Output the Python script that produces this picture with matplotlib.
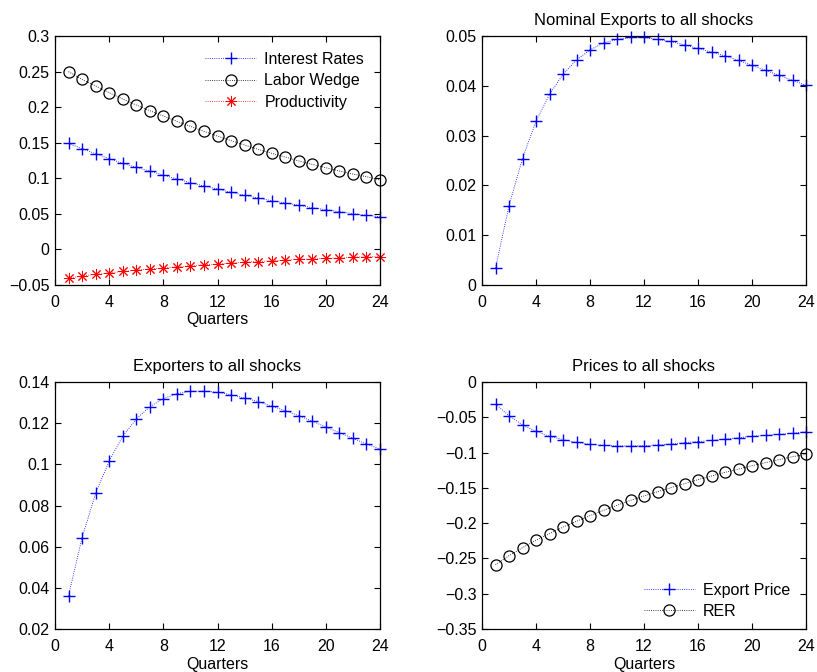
import numpy as np
import matplotlib
matplotlib.use("Agg")
import matplotlib.pyplot as plt
from matplotlib.ticker import FuncFormatter

plt.rcParams['font.family'] = ['Liberation Sans', 'DejaVu Sans']
plt.rcParams['font.size'] = 11.5

quarters = np.arange(1, 25)

# Responses to all shocks (panel 1)
interest_rates = [0.149, 0.1416, 0.1346, 0.1276, 0.121, 0.1154, 0.110, 0.1046,
                  0.099, 0.0938, 0.0892, 0.085, 0.0803, 0.076, 0.0723, 0.0685,
                  0.0653, 0.062, 0.0587, 0.0559, 0.0531, 0.0503, 0.048, 0.046]
labor_wedge = [0.2499, 0.2391, 0.2297, 0.2203, 0.2114, 0.203, 0.195, 0.1876,
               0.180, 0.173, 0.166, 0.1594, 0.1529, 0.1468, 0.1407, 0.1351,
               0.1299, 0.1243, 0.1196, 0.1149, 0.1103, 0.106, 0.1023, 0.0976]
productivity = [-0.040, -0.0375, -0.035, -0.033, -0.031, -0.029, -0.0275, -0.026,
                -0.0245, -0.023, -0.0215, -0.0205, -0.019, -0.018, -0.017, -0.016,
                -0.015, -0.014, -0.0135, -0.0125, -0.012, -0.011, -0.0105, -0.010]

# Nominal exports
nominal_exports = [0.0034, 0.0159, 0.0254, 0.0329, 0.0383, 0.0423, 0.0452, 0.0472,
                   0.0486, 0.0493, 0.0497, 0.0497, 0.0493, 0.0489, 0.0482, 0.0475,
                   0.0468, 0.046, 0.0451, 0.0441, 0.0431, 0.0421, 0.0411, 0.0401]

# Exporters
exporters = [0.0362, 0.0644, 0.0859, 0.1016, 0.1136, 0.122, 0.128, 0.1319,
             0.1343, 0.1355, 0.1356, 0.135, 0.1338, 0.1322, 0.1305, 0.1283,
             0.1261, 0.1236, 0.121, 0.1181, 0.1154, 0.1126, 0.1099, 0.1074]

# Prices
export_price = [-0.0312, -0.0477, -0.0609, -0.0699, -0.077, -0.0817, -0.0855, -0.0883,
                -0.0897, -0.0907, -0.0907, -0.0902, -0.0893, -0.0879, -0.086, -0.0845,
                -0.0827, -0.0808, -0.0789, -0.077, -0.0756, -0.0742, -0.0727, -0.0704]
rer = [-0.2588, -0.2461, -0.2347, -0.2244, -0.2149, -0.2055, -0.1974, -0.1894,
       -0.1818, -0.1748, -0.1677, -0.1615, -0.1554, -0.1497, -0.1441, -0.1384,
       -0.1332, -0.128, -0.1233, -0.1186, -0.1143, -0.11, -0.1058, -0.1025]


def fmt(v, pos):
    s = '%g' % (round(v, 6) + 0.0)
    if s == '-0':
        s = '0'
    return s.replace('-', '\u2212')


def style(ax, ylim, yticks):
    ax.set_xlim(0, 24)
    ax.set_xticks(np.arange(0, 25, 4))
    ax.set_ylim(*ylim)
    ax.set_yticks(yticks)
    ax.yaxis.set_major_formatter(FuncFormatter(fmt))
    ax.tick_params(direction='in', top=True, right=True, length=4, width=0.8)
    ax.tick_params(axis='x', pad=7)
    ax.tick_params(axis='y', pad=4)
    for sp in ax.spines.values():
        sp.set_linewidth(0.9)


fig = plt.figure(figsize=(8.17, 6.72), dpi=100)
W, H = 817.0, 672.0
ax1 = fig.add_axes([55 / W, 1 - 285 / H, 325 / W, 249 / H])
ax2 = fig.add_axes([482 / W, 1 - 285 / H, 324 / W, 249 / H])
ax3 = fig.add_axes([55 / W, 1 - 629 / H, 325 / W, 247 / H])
ax4 = fig.add_axes([482 / W, 1 - 629 / H, 324 / W, 247 / H])

plus = dict(marker='+', color='blue', ls=':', lw=0.6, ms=9, mew=1.0, clip_on=False)
circ = dict(marker='o', color='black', mfc='none', ls=':', lw=0.6, ms=8, mew=0.9,
            clip_on=False)
star = dict(marker=(8, 2, 0), color='red', ls=':', lw=0.6, ms=8, mew=0.7,
            clip_on=False)

leg_kw = dict(frameon=False, handlelength=3.2, labelspacing=0.4, borderpad=0.5,
              handletextpad=0.5, fontsize=11.5)

ax1.plot(quarters, interest_rates, label='Interest Rates', **plus)
ax1.plot(quarters, labor_wedge, label='Labor Wedge', **circ)
ax1.plot(quarters, productivity, label='Productivity', **star)
style(ax1, (-0.05, 0.3), np.arange(-0.05, 0.301, 0.05))
ax1.set_xlabel('Quarters', labelpad=2)
ax1.legend(loc='upper right', **leg_kw)

ax2.plot(quarters, nominal_exports, **plus)
style(ax2, (0, 0.05), np.arange(0, 0.0501, 0.01))
ax2.set_title('Nominal Exports to all shocks', fontsize=12, pad=8)

ax3.plot(quarters, exporters, **plus)
style(ax3, (0.02, 0.14), np.arange(0.02, 0.1401, 0.02))
ax3.set_xlabel('Quarters', labelpad=2)
ax3.set_title('Exporters to all shocks', fontsize=12, pad=8)

ax4.plot(quarters, export_price, label='Export Price', **plus)
ax4.plot(quarters, rer, label='RER', **circ)
style(ax4, (-0.35, 0), np.arange(-0.35, 0.001, 0.05))
ax4.set_xlabel('Quarters', labelpad=2)
ax4.set_title('Prices to all shocks', fontsize=12, pad=8)
ax4.legend(loc='lower right', bbox_to_anchor=(1.0, -0.024), **leg_kw)

fig.savefig('out.png', dpi=100)
